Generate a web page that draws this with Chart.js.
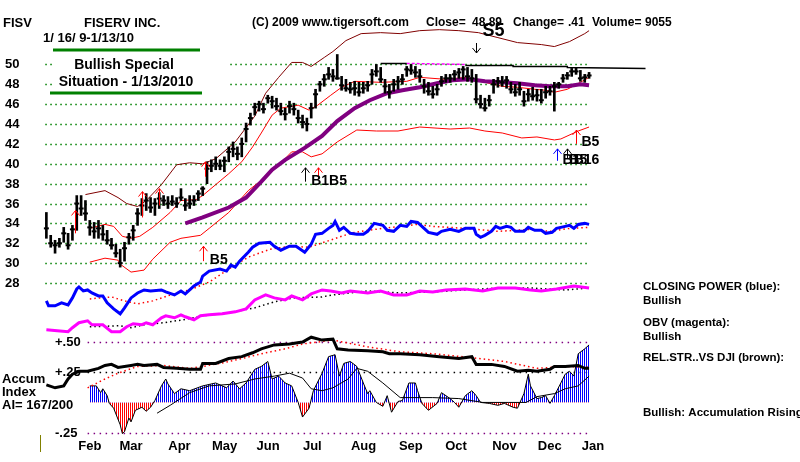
<!DOCTYPE html>
<html>
<head>
<meta charset="utf-8">
<script src="https://cdn.jsdelivr.net/npm/chart.js@4.4.0/dist/chart.umd.min.js"></script>
<style>
html, body { margin: 0; padding: 0; background: #fff; }
#wrap { width: 800px; height: 462px; }
</style>
</head>
<body>
<div id="wrap"><canvas id="grafico" width="800" height="462"></canvas></div>
<script>
// trading day index: 0 = 16 Jan 2009, 250 = 13 Jan 2010
const barDays = [0,2,4,6,8,10,12,14,16,18,20,22,24,26,28,30,32,34,36,38,40,42,44,46,48,50,52,54,56,58,60,62,64,66,68,70,72,74,76,78,80,82,84,86,88,90,92,94,96,98,100,102,104,106,108,110,112,114,116,118,120,122,124,126,128,130,132,134,136,138,140,142,144,146,148,150,152,154,156,158,160,162,164,166,168,170,172,174,176,178,180,182,184,186,188,190,192,194,196,198,200,202,204,206,208,210,212,214,216,218,220,222,224,226,228,230,232,234,236,238,240,242,244,246,248,250];
const hi = [35.1,32.8,32.3,32.5,33.6,33.0,33.8,36.8,36.8,36.3,
  34.3,34.1,34.3,33.8,33.3,32.5,31.9,31.4,32.1,33.0,
  33.8,35.5,36.5,37.0,36.6,36.5,37.1,36.8,36.7,36.8,
  36.6,37.5,36.5,36.8,36.8,37.3,37.7,40.2,40.4,40.7,
  40.4,40.7,41.7,42.2,41.7,42.6,44.1,45.1,46.1,46.3,
  46.1,46.9,46.8,46.6,46.1,45.6,46.3,46.1,45.4,44.9,
  44.6,46.1,47.5,48.3,49.0,49.7,49.5,51.0,48.8,48.5,
  48.2,48.3,48.2,48.2,48.3,49.5,50.0,49.7,48.5,48.0,
  48.5,48.8,49.0,49.8,50.0,49.8,49.5,48.5,48.2,47.8,
  48.0,48.8,49.0,49.0,49.4,49.6,49.8,49.7,49.5,49.0,
  46.9,46.6,46.9,48.5,48.7,48.8,48.8,48.2,48.0,48.2,
  47.3,47.5,47.7,47.5,47.5,47.8,47.8,48.2,48.2,49.0,
  49.2,49.6,49.7,49.4,49.0,49.2];
const lo = [32.5,31.6,31.0,31.6,32.1,31.4,32.3,33.3,34.8,34.3,
  32.8,32.5,32.5,32.3,31.9,31.4,30.6,29.6,30.2,31.9,
  32.3,33.8,34.8,35.3,35.1,34.8,35.5,35.8,35.5,35.8,
  35.6,36.3,35.3,35.5,35.8,36.3,36.8,38.0,39.2,39.4,
  39.4,39.2,40.2,40.7,40.4,40.7,42.2,43.9,44.9,45.3,
  45.1,46.1,45.6,45.4,44.9,44.4,45.1,44.9,44.1,43.6,
  43.3,44.6,45.6,47.3,47.8,48.5,48.3,48.5,47.4,47.3,
  47.1,46.9,46.8,47.1,47.3,48.0,48.8,48.2,47.1,46.6,
  47.3,47.5,48.0,48.8,49.0,48.7,48.2,47.1,46.9,46.6,
  46.9,47.8,48.2,48.2,48.4,48.6,48.5,48.3,48.2,46.1,
  45.6,45.3,45.8,47.1,47.7,47.8,47.6,47.1,46.8,46.9,
  45.8,46.3,46.4,46.3,46.1,46.6,46.9,45.3,47.6,48.2,
  48.5,48.8,49.0,48.3,48.2,48.6];
const cl = [33.5,32.0,31.8,32.0,33.0,31.8,33.4,36.0,35.5,35.0,
  33.6,33.2,33.5,32.9,32.3,31.8,31.0,30.0,31.5,32.6,
  33.3,35.0,35.8,36.3,35.6,36.0,36.5,36.3,36.0,36.2,
  36.0,36.6,35.8,36.0,36.3,37.0,37.5,39.5,39.8,40.0,
  39.8,40.3,41.2,41.5,41.0,42.0,43.5,44.6,45.7,46.0,
  45.5,46.6,46.3,45.8,45.3,45.0,45.8,45.5,44.6,44.2,
  44.0,45.6,47.0,48.0,48.5,49.0,48.8,48.6,47.9,47.6,
  47.5,47.6,47.2,47.6,47.9,49.0,49.3,48.5,47.8,47.2,
  48.0,48.3,48.5,49.5,49.4,49.2,48.8,47.8,47.3,47.0,
  47.5,48.3,48.6,48.6,49.0,49.2,49.5,48.8,48.6,46.5,
  46.0,45.6,46.4,48.0,48.3,48.2,48.4,47.5,47.2,47.5,
  46.3,47.0,46.8,46.9,46.4,47.2,47.3,47.8,48.0,48.6,
  48.9,49.3,49.3,48.6,48.7,48.89];

// bands and moving averages (price units)
const upperDays = [18,27,33,37,42,46,53,60,66,72,78,87,96,101,107,113,118,122,128,132,138,145,154,163,172,181,190,199,208,217,228,234,241,248,250];
const upperVals = [36.9,37.3,36.6,36.0,35.7,36.3,37.9,39.9,40.1,40.0,40.5,42.2,44.8,47.1,48.7,50.2,50.2,49.8,50.7,51.3,52.4,53.1,53.2,53.1,53.4,53.5,53.4,53.2,52.7,52.2,52.0,51.8,52.3,53.1,53.4];
const maDays = [20,27,31,35,39,43,49,57,62,69,72,78,84,90,95,99,104,108,116,121,125,131,136,142,154,166,172,184,193,202,210,217,225,230,234,240,246,250];
const maVals = [33.5,33.9,33.7,32.7,32.5,32.7,33.6,35.1,36.3,36.4,36.8,37.9,39.0,40.2,41.7,43.1,44.9,45.6,45.9,45.4,45.9,46.9,47.7,48.3,48.2,48.3,48.7,48.5,48.7,48.2,47.8,47.7,47.5,47.4,47.2,47.5,48.2,48.7];
const lowerDays = [20,27,33,34,39,45,49,57,62,71,75,84,93,104,113,118,122,127,134,143,152,162,172,186,195,202,210,219,226,234,237,245,250];
const lowerVals = [30.1,30.5,30.3,29.9,29.1,29.3,30.4,32.1,32.5,32.8,33.5,35.1,37.3,39.2,41.2,41.2,40.7,41.0,42.2,43.4,43.3,43.3,43.7,43.5,43.6,43.3,43.1,42.6,42.7,42.4,42.5,43.3,43.7];
const ma50Days = [64,72,84,92,99,104,110,119,127,134,142,149,157,164,172,180,187,195,202,210,217,225,232,240,246,250];
const ma50Vals = [34.0,34.6,35.6,36.6,38.2,39.4,40.4,41.6,42.8,44.3,45.6,46.4,47.1,47.4,47.7,48.1,48.4,48.5,48.3,48.2,48.1,47.9,47.8,47.8,48.0,47.9];
const resDays = [154,166,null,193,215,215,240,240,276];
const resVals = [50.1,50.1,null,49.9,49.9,49.8,49.8,49.7,49.6];
const resDashDays = [166,193];
const resDashVals = [50.1,50.0];

// closing power (blue) and OBV (magenta), read on the price grid
const cpDays = [0,1,4,7,10,12,14,15,17,19,21,24,26,28,31,34,36,39,42,45,48,53,55,59,62,64,68,71,72,75,80,83,85,87,89,93,95,98,103,105,108,112,115,119,122,124,127,130,132,133,135,137,140,143,146,148,151,155,157,160,163,166,168,171,174,176,180,182,186,190,193,197,198,200,202,205,207,209,212,214,216,220,222,225,228,230,233,235,239,241,243,245,248,250];
const cpVals = [26.2,25.7,25.7,26.0,25.8,26.5,27.4,27.6,27.2,27.3,27.0,26.7,26.7,26.0,25.4,24.9,25.5,26.5,27.0,27.3,27.2,27.3,27.1,26.8,27.2,26.9,27.7,28.1,28.7,29.2,29.4,29.2,29.8,29.6,30.2,31.1,31.6,32.0,32.1,31.7,31.3,31.7,31.7,31.1,31.9,32.9,33.0,33.5,33.8,34.2,33.3,33.6,33.0,32.9,32.9,33.2,34.0,33.8,33.3,33.2,33.8,33.7,34.2,34.1,33.5,33.1,32.9,33.2,33.4,33.2,33.5,33.5,32.9,32.6,32.8,33.2,33.7,33.5,33.7,33.6,33.2,33.2,33.6,33.3,33.3,33.0,33.1,33.5,33.7,33.8,33.5,33.9,34.0,33.9];
const cpMaDays = [20,30,36,42,49,60,66,75,84,93,103,112,121,132,140,148,155,171,178,193,208,223,232,241,250];
const cpMaVals = [26.4,26.6,26.2,25.9,26.2,27.0,27.3,28.1,29.4,30.6,31.4,31.7,31.6,32.4,33.0,33.3,33.5,33.9,33.7,33.5,33.2,33.4,33.2,33.5,33.6];
const obvDays = [0,5,10,12,15,19,21,26,30,34,37,40,44,46,49,53,55,59,62,64,68,71,75,81,87,92,96,101,105,110,113,118,122,127,131,136,140,148,154,160,166,172,178,184,193,201,208,216,223,228,235,243,250];
const obvVals = [23.3,23.2,23.1,23.5,24.0,24.2,23.8,23.8,23.1,23.1,23.6,23.9,23.8,24.0,23.8,24.5,24.7,24.5,24.8,24.6,24.3,24.7,24.8,24.9,25.1,25.4,26.3,26.8,26.5,26.3,26.7,26.3,26.9,27.3,27.2,27.0,27.2,27.0,27.2,26.8,26.8,27.2,27.1,27.3,27.4,27.2,27.5,27.5,27.3,27.2,27.4,27.7,27.5];
const obvMaDays = [20,34,39,45,54,63,72,84,96,105,114,127,132,148,163,178,193,208,223,239,250];
const obvMaVals = [23.6,23.7,23.5,23.8,24.0,24.3,24.7,25.0,25.5,26.1,26.5,26.6,26.8,27.2,27.0,27.1,27.3,27.5,27.5,27.3,27.5];

// lower panel: relative strength and accumulation index
const rsDays = [0,4,8,10,12,15,19,24,27,30,33,39,42,45,51,54,60,66,71,72,78,84,90,95,99,105,112,118,122,127,132,134,139,148,155,158,163,172,181,190,196,198,205,211,217,222,226,232,234,239,245,248,250];
const rsVals = [0.145,0.121,0.137,0.194,0.234,0.258,0.258,0.282,0.306,0.315,0.290,0.306,0.315,0.306,0.315,0.290,0.282,0.274,0.274,0.323,0.323,0.363,0.379,0.411,0.444,0.476,0.484,0.500,0.540,0.516,0.524,0.444,0.435,0.427,0.419,0.403,0.403,0.395,0.379,0.363,0.379,0.315,0.315,0.298,0.258,0.266,0.258,0.274,0.298,0.298,0.306,0.282,0.282];
const rsMaDays = [19,27,33,42,54,66,72,80,90,99,110,118,132,148,163,178,196,211,226,239,250];
const rsMaVals = [0.121,0.194,0.242,0.298,0.306,0.282,0.298,0.323,0.363,0.403,0.444,0.484,0.516,0.460,0.419,0.403,0.371,0.339,0.282,0.298,0.290];
const aiDays = [20,23,25,26,28,29,31,34,35,36,38,39,41,44,46,48,50,53,55,56,59,62,66,72,78,83,86,89,92,96,99,102,104,107,110,113,116,118,121,123,127,130,133,135,137,140,143,146,148,149,152,155,157,159,162,164,167,170,171,173,176,180,182,186,188,190,193,196,198,200,204,208,211,215,217,220,222,223,226,228,230,232,234,237,239,241,243,245,248,250];
const aiVals = [0.137,0.137,0.081,0.113,0.056,-0.008,-0.048,-0.185,-0.258,-0.242,-0.129,-0.161,-0.065,-0.040,-0.073,-0.040,0.016,0.137,0.194,0.153,0.073,0.113,0.097,0.137,0.161,0.121,0.177,0.113,0.161,0.274,0.298,0.339,0.194,0.218,0.161,0.137,0.000,-0.121,-0.048,0.097,0.242,0.379,0.395,0.218,0.323,0.339,0.298,0.161,0.073,0.097,0.000,-0.032,0.056,-0.081,0.008,0.016,0.161,0.161,0.097,-0.008,-0.065,-0.008,0.081,0.032,0.000,-0.040,0.056,0.097,0.056,0.000,-0.008,-0.024,-0.008,-0.040,-0.048,0.073,0.234,0.137,0.032,0.040,0.056,-0.008,0.056,0.161,0.234,0.258,0.218,0.403,0.444,0.476];
const aiMaDays = [51,57,66,75,87,96,105,112,118,122,127,132,139,143,148,155,163,178,190,201,213,221,226,234,239,245,250];
const aiMaVals = [-0.089,-0.024,0.081,0.137,0.153,0.194,0.218,0.242,0.202,0.113,0.097,0.121,0.194,0.282,0.258,0.161,0.040,0.040,0.032,0.000,0.000,0.000,0.048,0.073,0.113,0.137,0.218];

// axis labels
const priceTicks = [50,48,46,44,42,40,38,36,34,32,30,28];
const monthNames = ['Feb','Mar','Apr','May','Jun','Jul','Aug','Sep','Oct','Nov','Dec','Jan'];
const monthDays = [20,39,61.3,82.1,102.1,122.5,146.1,167.9,188.7,211,231.9,251.8];
const aiLevels = [0.5, 0.25, -0.25];
const aiLevelLabels = ['+.50', '+.25', '-.25'];

// signals: day, arrow tip, arrow tail (price units), colour
const sigDays = [13,44,52,73,72,119,125,235,240,244];
const sigTips = [35.3,37.2,37.5,40.2,31.7,39.6,39.6,41.5,41.5,43.4];
const sigTails = [33.0,34.6,35.8,38.7,30.2,38.2,38.5,40.3,40.5,42.0];
const sigColors = ['#ff0000','#ff0000','#ff0000','#ff0000','#ff0000','#000000','#ff0000','#0000ff','#000000','#ff0000'];
const sigLabels = ['B5','B1B5','B1','B5','B16','B5'];
const sigLabelDays = [75.3,122,237.7,240.9,242.9,246.5];
const sigLabelPrices = [30.3,38.3,40.4,40.4,40.4,42.2];

const pts = (xs, ys) => xs.map((x, i) => ({ x: x, y: ys[i] }));
const FONT = "'Liberation Sans', Arial, sans-serif";

const canvas = document.getElementById('grafico');
const ctx = canvas.getContext('2d');

function stripes(color) {
    const c = document.createElement('canvas');
    c.width = 2; c.height = 1;
    const g = c.getContext('2d');
    g.fillStyle = color;
    g.fillRect(0, 0, 1, 1);
    return ctx.createPattern(c, 'repeat');
}

function txt(c, s, x, y, size, color, align) {
    c.font = 'bold ' + size + 'px ' + FONT;
    c.fillStyle = color || '#000';
    c.textAlign = align || 'left';
    c.textBaseline = 'middle';
    c.fillText(s, x, y);
}

function hline(c, x1, x2, y, color, width, dash) {
    c.save();
    c.strokeStyle = color;
    c.lineWidth = width;
    c.setLineDash(dash || []);
    c.beginPath();
    c.moveTo(x1, y);
    c.lineTo(x2, y);
    c.stroke();
    c.restore();
}

function arrow(c, x, yTip, yTail, color) {
    const dir = yTail > yTip ? 1 : -1;
    c.save();
    c.strokeStyle = color;
    c.lineWidth = 1;
    c.beginPath();
    c.moveTo(x, yTail);
    c.lineTo(x, yTip);
    c.moveTo(x - 4, yTip + 5 * dir);
    c.lineTo(x, yTip);
    c.lineTo(x + 4, yTip + 5 * dir);
    c.stroke();
    c.restore();
}

const decor = {
    id: 'decor',
    beforeDatasetsDraw(chart) {
        const c = chart.ctx, xs = chart.scales.x, ys = chart.scales.y, as = chart.scales.yAcc;
        const x0 = xs.getPixelForValue(-0.5), x1 = xs.getPixelForValue(250);
        c.save();
        // price grid + labels
        priceTicks.forEach(v => {
            const py = Math.round(ys.getPixelForValue(v)) + 0.5;
            hline(c, x0, x1, py, '#008000', 1.5, [1.5, 3.5]);
            txt(c, String(v), 5, py, 13);
        });
        // accumulation levels
        aiLevels.forEach((v, i) => {
            const py = Math.round(as.getPixelForValue(v)) + 0.5;
            hline(c, xs.getPixelForValue(19), x1, py, v === 0.25 ? '#000' : '#800080', 1.5, [1.5, 4.5]);
            txt(c, aiLevelLabels[i], 55, py, 13);
        });
        // title block
        c.fillStyle = '#fff';
        c.fillRect(53, 52, 174, 39);
        txt(c, 'FISV', 3, 23, 13);
        txt(c, 'FISERV INC.', 84, 23, 13);
        txt(c, '1/ 16/ 9-1/13/10', 43, 38, 13);
        txt(c, '(C) 2009 www.tigersoft.com', 252, 23, 12);
        txt(c, 'Close=', 426, 23, 12);
        txt(c, '48.89', 472, 23, 12);
        txt(c, 'Change=', 513, 23, 12);
        txt(c, '.41', 568, 23, 12);
        txt(c, 'Volume=', 592, 23, 12);
        txt(c, '9055', 645, 23, 12);
        hline(c, 53, 200, 50, '#008000', 3);
        hline(c, 50, 202, 93, '#008000', 3);
        txt(c, 'Bullish Special', 124, 65, 14, '#000', 'center');
        txt(c, 'Situation - 1/13/2010', 126, 82, 14, '#000', 'center');
        // lower panel captions
        txt(c, 'Accum', 2, 379, 13);
        txt(c, 'Index', 2, 392, 13);
        txt(c, 'AI= 167/200', 2, 405, 13);
        c.strokeStyle = '#808000';
        c.lineWidth = 1;
        c.beginPath(); c.moveTo(40.5, 435); c.lineTo(40.5, 452); c.stroke();
        // months
        monthNames.forEach((m, i) => txt(c, m, xs.getPixelForValue(monthDays[i]), 446, 13, '#000', 'center'));
        // legend on the right
        txt(c, 'CLOSING POWER (blue):', 643, 287, 11.5);
        txt(c, 'Bullish', 643, 301, 11.5);
        txt(c, 'OBV (magenta):', 643, 323, 11.5);
        txt(c, 'Bullish', 643, 337, 11.5);
        txt(c, 'REL.STR..VS DJI (brown):', 643, 358, 11.5);
        txt(c, 'Bullish: Accumulation Rising', 643, 413, 11.5);
        c.restore();
    },
    afterDatasetsDraw(chart) {
        const c = chart.ctx, xs = chart.scales.x, ys = chart.scales.y;
        c.save();
        sigDays.forEach((d, i) => {
            const px = Math.round(xs.getPixelForValue(d)) + 0.5;
            arrow(c, px, ys.getPixelForValue(sigTips[i]), ys.getPixelForValue(sigTails[i]), sigColors[i]);
        });
        sigLabels.forEach((s, i) => {
            txt(c, s, xs.getPixelForValue(sigLabelDays[i]), ys.getPixelForValue(sigLabelPrices[i]), 14);
        });
        // sell signal at the top
        const sx = Math.round(xs.getPixelForValue(198)) + 0.5;
        arrow(c, sx, 53, 43, '#000');
        txt(c, 'S5', sx + 6, 31, 18);
        c.restore();
    }
};

const line = (data, color, width, axis, extra) => Object.assign({
    type: 'line',
    data: data,
    borderColor: color,
    borderWidth: width,
    pointRadius: 0,
    tension: 0,
    fill: false,
    yAxisID: axis || 'y',
    order: 5
}, extra || {});

new Chart(ctx, {
    type: 'bar',
    data: {
        datasets: [
            {
                type: 'line',
                data: pts(barDays, cl),
                showLine: false,
                pointStyle: 'line',
                pointRadius: 2.5,
                pointBorderWidth: 2,
                pointBorderColor: '#000',
                yAxisID: 'y',
                order: 0
            },
            {
                type: 'bar',
                data: barDays.map((d, i) => ({ x: d, y: [lo[i], hi[i]] })),
                backgroundColor: '#000',
                barThickness: 2,
                grouped: false,
                yAxisID: 'y',
                order: 1
            },
            line(pts(resDays, resVals), '#000', 1.5, 'y', { order: 2, spanGaps: false }),
            line(pts(resDashDays, resDashVals), '#ff00ff', 1.5, 'y', { order: 2, borderDash: [3, 2] }),
            line(pts(ma50Days, ma50Vals), '#800080', 4, 'y', { order: 3 }),
            line(pts(maDays, maVals), '#ff0000', 1, 'y', { order: 4 }),
            line(pts(upperDays, upperVals), '#800000', 1, 'y'),
            line(pts(lowerDays, lowerVals), '#ff0000', 1, 'y'),
            line(pts(cpMaDays, cpMaVals), '#ff0000', 1.5, 'y', { borderDash: [1.5, 3], order: 7 }),
            line(pts(cpDays, cpVals), '#0000ff', 3, 'y', { order: 6 }),
            line(pts(obvMaDays, obvMaVals), '#000', 1.5, 'y', { borderDash: [1.5, 3], order: 7 }),
            line(pts(obvDays, obvVals), '#ff00ff', 3, 'y', { order: 6 }),
            line(pts(rsMaDays, rsMaVals), '#ff0000', 1.5, 'yAcc', { borderDash: [1.5, 3], order: 7 }),
            line(pts(rsDays, rsVals), '#000', 3, 'yAcc', { order: 6 }),
            line(pts(aiMaDays, aiMaVals), '#000', 1, 'yAcc', { order: 6 }),
            line(pts(aiDays, aiVals), '#000', 1, 'yAcc', {
                order: 8,
                fill: { target: 'origin', above: stripes('#0000ff'), below: stripes('#ff0000') }
            })
        ]
    },
    options: {
        responsive: false,
        animation: false,
        events: [],
        layout: { padding: 0 },
        plugins: { legend: { display: false }, tooltip: { enabled: false } },
        scales: {
            x: { type: 'linear', min: -18.6, max: 344.4, offset: false, display: false },
            y: { type: 'linear', min: 10.588, max: 55.882, display: false },
            yAcc: { type: 'linear', axis: 'y', min: -0.4435, max: 3.282, display: false }
        }
    },
    plugins: [decor]
});
</script>
</body>
</html>
